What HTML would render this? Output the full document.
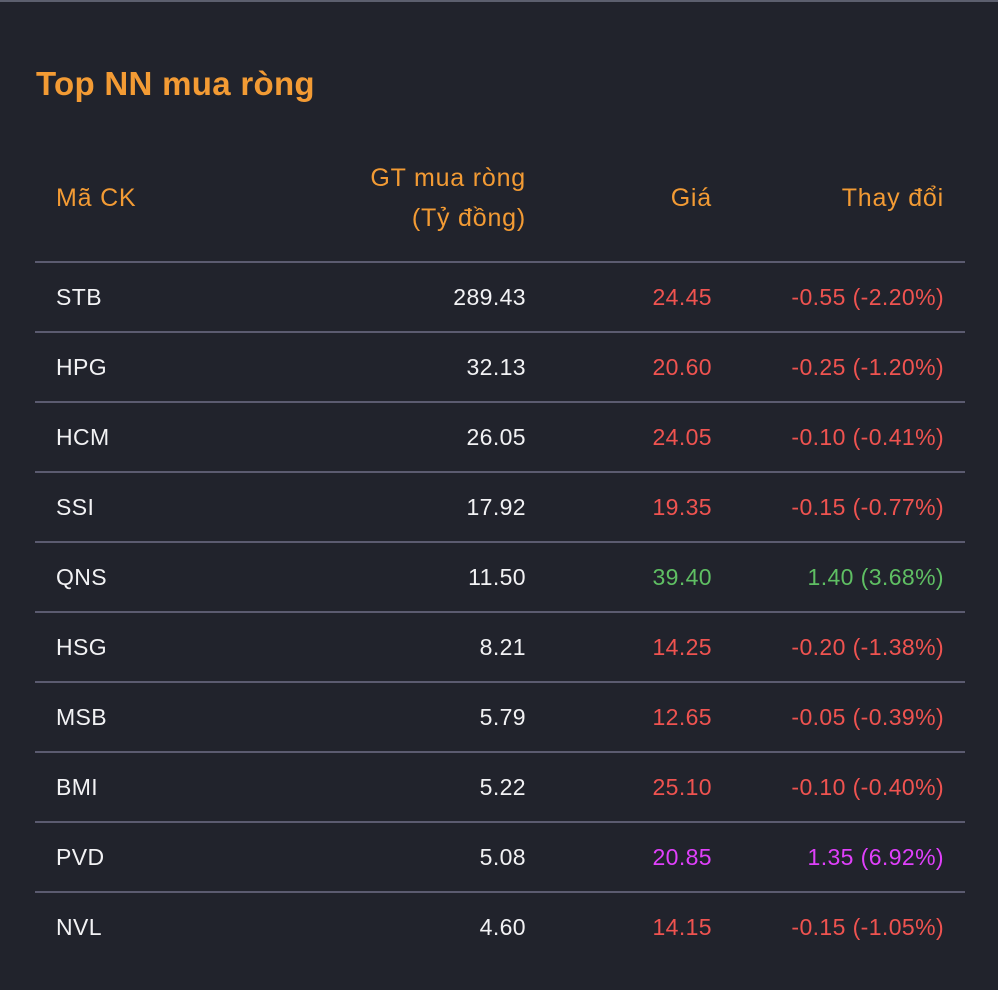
<!DOCTYPE html>
<html><head><meta charset="utf-8"><style>
body{margin:0;width:998px;height:990px;background:#21232c;font-family:"Liberation Sans",Roboto,sans-serif;position:relative;overflow:hidden}
.topline{position:absolute;left:0;top:0;width:998px;height:2px;background:#5c5f6e}
.title{position:absolute;left:36px;top:64px;font-size:33px;font-weight:bold;color:#f39b34;line-height:40px;letter-spacing:0.3px}
.h{position:absolute;color:#f39b34;font-size:25px;line-height:40px;letter-spacing:0.8px}
.row{position:absolute;left:35px;width:930px;height:70px;border-top:2px solid #5b5b70;box-sizing:border-box}
.c{position:absolute;top:14px;line-height:40px;font-size:23px;white-space:nowrap;letter-spacing:0.4px}
.c1{left:21px;color:#f2f2f4}
.c2{right:439px;color:#f2f2f4}
.c3{right:253px}
.c4{right:21px}
.r{color:#ef5350}.g{color:#5fbf63}.p{color:#e040fb}
</style></head><body>
<div class="topline"></div>
<div class="title">Top NN mua ròng</div>
<div class="h" style="left:56px;top:178px">Mã CK</div>
<div class="h" style="right:472px;top:158px;text-align:right">GT mua ròng<br>(Tỷ đồng)</div>
<div class="h" style="right:286px;top:178px">Giá</div>
<div class="h" style="right:54px;top:178px">Thay đổi</div>
<div id="rows"></div>
<script>
const codes=["STB","HPG","HCM","SSI","QNS","HSG","MSB","BMI","PVD","NVL"];
const values=["289.43","32.13","26.05","17.92","11.50","8.21","5.79","5.22","5.08","4.60"];
const prices=["24.45","20.60","24.05","19.35","39.40","14.25","12.65","25.10","20.85","14.15"];
const changes=["-0.55 (-2.20%)","-0.25 (-1.20%)","-0.10 (-0.41%)","-0.15 (-0.77%)","1.40 (3.68%)","-0.20 (-1.38%)","-0.05 (-0.39%)","-0.10 (-0.40%)","1.35 (6.92%)","-0.15 (-1.05%)"];
const colors=["r","r","r","r","g","r","r","r","p","r"];
const host=document.getElementById('rows');
codes.forEach((c,i)=>{
const row=document.createElement('div');
row.className='row';row.style.top=(261+i*70)+'px';


row.innerHTML='<div class="c c1">'+c+'</div>'+
'<div class="c c2">'+values[i]+'</div>'+
'<div class="c c3 '+colors[i]+'">'+prices[i]+'</div>'+
'<div class="c c4 '+colors[i]+'">'+changes[i]+'</div>';
host.appendChild(row);
});
</script>
</body></html>
